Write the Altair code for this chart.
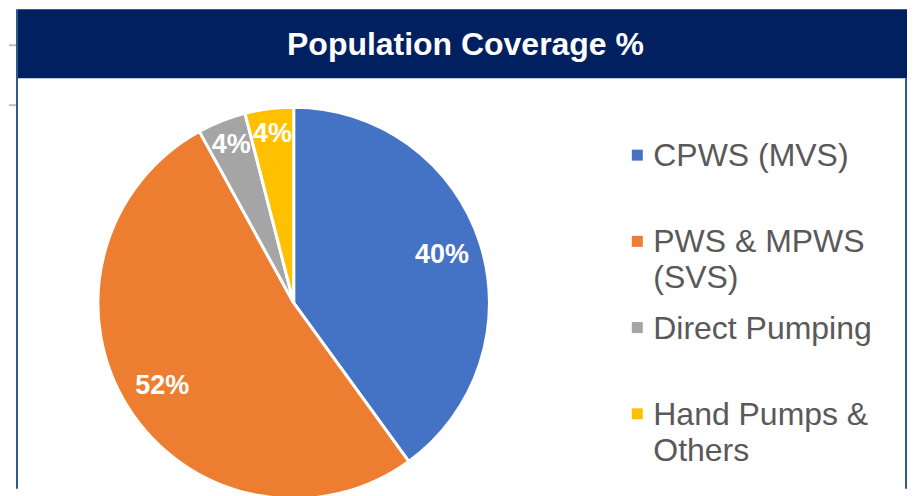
import altair as alt
import pandas as pd

# ---- data ----
categories = ["CPWS (MVS)", "PWS & MPWS (SVS)", "Direct Pumping", "Hand Pumps & Others"]
legend_labels = ["CPWS (MVS)", "PWS & MPWS\n(SVS)", "Direct Pumping", "Hand Pumps &\nOthers"]
values = [40, 52, 4, 4]
colors = ["#4472C4", "#ED7D31", "#A5A5A5", "#FFC000"]
title_text = "Population Coverage %"

df = pd.DataFrame({
    "category": categories,
    "legend": legend_labels,
    "value": values,
    "idx": list(range(len(categories))),
    "label": [f"{v}%" for v in values],
})

FONT = "Liberation Sans"
W, H = 899, 480
CX, CY, R = 285, 294, 196

color_scale = alt.Scale(domain=categories, range=colors)
base = alt.Chart(df)

# decorative frame
frame_df = pd.DataFrame({"k": [0]})
frame = alt.Chart(frame_df)
gray1 = frame.mark_rule(color="#BFBFBF", strokeWidth=2).encode(
    x=alt.value(0), x2=alt.value(8), y=alt.value(36))
gray2 = frame.mark_rule(color="#BFBFBF", strokeWidth=2).encode(
    x=alt.value(0), x2=alt.value(8), y=alt.value(96))
left_border = frame.mark_rule(color="#2E5A88", strokeWidth=2).encode(
    x=alt.value(8), y=alt.value(0), y2=alt.value(H))
right_border = frame.mark_rule(color="#2E5A88", strokeWidth=2).encode(
    x=alt.value(W - 1), y=alt.value(69), y2=alt.value(H))
header = frame.mark_rect(color="#002060").encode(
    x=alt.value(9), x2=alt.value(W), y=alt.value(0), y2=alt.value(69))
title = frame.mark_text(
    text=title_text, font=FONT, fontSize=32, fontWeight="bold", color="white",
    align="center", baseline="middle").encode(x=alt.value(457), y=alt.value(36))

pie = base.mark_arc(outerRadius=R, stroke="white", strokeWidth=3).encode(
    theta=alt.Theta("value:Q", stack=True),
    color=alt.Color("category:N", scale=color_scale, legend=None),
    order=alt.Order("idx:Q"),
    x=alt.value(CX), y=alt.value(CY),
)
label_style = dict(font=FONT, fontSize=27, fontWeight="bold", color="white",
                   align="center", baseline="middle")
pie_labels_big = base.mark_text(radius=156, **label_style).encode(
    theta=alt.Theta("value:Q", stack=True),
    order=alt.Order("idx:Q"),
    text=alt.condition("datum.value >= 10", "label:N", alt.value("")),
    x=alt.value(CX), y=alt.value(CY),
)
pie_labels_small = base.mark_text(radius=170, **label_style).encode(
    theta=alt.Theta("value:Q", stack=True),
    order=alt.Order("idx:Q"),
    text=alt.condition("datum.value < 10", "label:N", alt.value("")),
    x=alt.value(CX), y=alt.value(CY),
)

ly = alt.Y("idx:Q", scale=alt.Scale(domain=[0, 3], range=[146, 405]), axis=None)
leg_sq = base.mark_square(size=121, opacity=1, filled=True).encode(
    x=alt.value(629), y=ly,
    color=alt.Color("category:N", scale=color_scale, legend=None),
)
leg_txt = base.mark_text(
    font=FONT, fontSize=32, color="#595959", align="left", baseline="alphabetic",
    dy=11, lineBreak="\n", lineHeight=36).encode(
    x=alt.value(645), y=ly, text="legend:N",
)

chart = alt.layer(
    header, gray1, gray2, left_border, right_border, title,
    pie, pie_labels_big, pie_labels_small, leg_sq, leg_txt
).properties(
    width=W, height=H, padding=0, background="white"
).configure_view(stroke=None)

chart.save("out.html", embed_options={"renderer": "svg", "actions": False})
